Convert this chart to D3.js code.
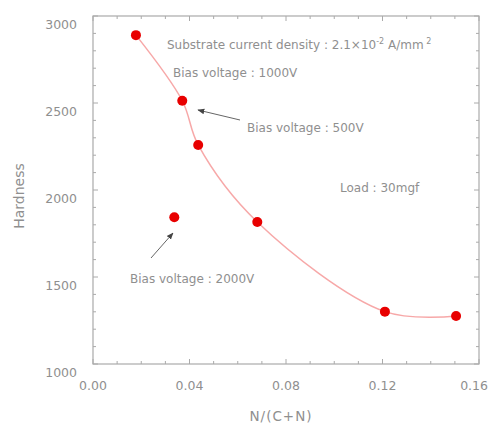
<!DOCTYPE html>
<html><head><meta charset="utf-8">
<script src="https://cdn.jsdelivr.net/npm/d3@7"></script>
<style>body{margin:0;background:#fff;} svg{display:block;} text{font-family:"DejaVu Sans",Verdana,sans-serif;}</style>
</head><body>
<svg id="c" width="489" height="424"></svg>
<script>
const xValues = [0.0178, 0.0370, 0.0436, 0.0681, 0.121, 0.1505];
const hardness = [2890, 2513, 2259, 1816, 1301, 1276];
const isoX = [0.0337];
const isoY = [1843];
const xTicks = [0.00, 0.04, 0.08, 0.12, 0.16];
const xTickLabels = ["0.00", "0.04", "0.08", "0.12", "0.16"];
const yTicks = [1000, 1500, 2000, 2500, 3000];
const yTickLabels = ["1000", "1500", "2000", "2500", "3000"];

const svg = d3.select("#c");
const L = 93, R = 479, T = 16, B = 364;
const x = d3.scaleLinear().domain([0, 0.16]).range([L, R]);
const y = d3.scaleLinear().domain([1000, 3000]).range([B, T]);
const axisCol = "#aaa", textCol = "#8f8f8f";

// frame
svg.append("rect").attr("x", L).attr("y", T).attr("width", R - L).attr("height", B - T)
  .attr("fill", "none").attr("stroke", axisCol).attr("stroke-width", 1.2);

// ticks inward on all sides
const g = svg.append("g").attr("stroke", axisCol).attr("stroke-width", 1);
d3.range(0, 0.1601, 0.01).forEach(v => {
  const major = xTicks.some(t => Math.abs(t - v) < 1e-6);
  const len = major ? 5 : 3;
  g.append("line").attr("x1", x(v)).attr("x2", x(v)).attr("y1", B).attr("y2", B - len);
  g.append("line").attr("x1", x(v)).attr("x2", x(v)).attr("y1", T).attr("y2", T + len);
});
d3.range(1000, 3001, 100).forEach(v => {
  const major = yTicks.includes(v);
  const len = major ? 5 : 3;
  g.append("line").attr("y1", y(v)).attr("y2", y(v)).attr("x1", L).attr("x2", L + len);
  g.append("line").attr("y1", y(v)).attr("y2", y(v)).attr("x1", R).attr("x2", R - len);
});

// tick labels
xTicks.forEach((t, i) => {
  const last = i === xTicks.length - 1;
  svg.append("text").attr("x", last ? 488 : x(t)).attr("y", B + 26)
    .attr("text-anchor", last ? "end" : "middle").attr("font-size", 12.5)
    .attr("fill", textCol).text(xTickLabels[i]);
});
yTicks.forEach((t, i) => svg.append("text").attr("x", 77).attr("y", y(t) + 13)
  .attr("text-anchor", "end").attr("font-size", 12.5).attr("fill", textCol).text(yTickLabels[i]));

// axis titles
svg.append("text").attr("x", 281).attr("y", 421).attr("text-anchor", "middle")
  .attr("font-size", 13.5).attr("letter-spacing", 1).attr("fill", textCol).text("N/(C+N)");
svg.append("text").attr("transform", "translate(24,196) rotate(-90)").attr("text-anchor", "middle")
  .attr("font-size", 14).attr("fill", textCol).text("Hardness");

// curve
const pts = xValues.map((v, i) => [x(v), y(hardness[i])]);
svg.append("path").attr("d", d3.line().curve(d3.curveCatmullRom.alpha(0.5))(pts))
  .attr("fill", "none").attr("stroke", "#f7a8a8").attr("stroke-width", 1.5);

// points
const all = xValues.map((v, i) => [v, hardness[i]]).concat(isoX.map((v, i) => [v, isoY[i]]));
svg.selectAll("circle.p").data(all).enter().append("circle")
  .attr("cx", d => x(d[0])).attr("cy", d => y(d[1])).attr("r", 5).attr("fill", "#e80000");

// annotations
const ann = svg.append("g").attr("font-size", 12).attr("fill", textCol);
const t1 = ann.append("text").attr("x", 167).attr("y", 49);
t1.append("tspan").text("Substrate current density : 2.1×10");
t1.append("tspan").attr("dy", -5).attr("font-size", 8).text("-2");
t1.append("tspan").attr("dy", 5).text(" A/mm");
t1.append("tspan").attr("dy", -5).attr("font-size", 8).text(" 2");
ann.append("text").attr("x", 173).attr("y", 77).text("Bias voltage : 1000V");
ann.append("text").attr("x", 247).attr("y", 132).text("Bias voltage : 500V");
ann.append("text").attr("x", 340).attr("y", 192).text("Load : 30mgf");
ann.append("text").attr("x", 130).attr("y", 283).text("Bias voltage : 2000V");

// arrows
svg.append("defs").append("marker").attr("id", "ah").attr("viewBox", "0 0 10 10")
  .attr("refX", 9).attr("refY", 5).attr("markerWidth", 7).attr("markerHeight", 7)
  .attr("orient", "auto").append("path").attr("d", "M0,1L10,5L0,9z").attr("fill", "#444");
svg.append("line").attr("x1", 240).attr("y1", 120).attr("x2", 198).attr("y2", 110)
  .attr("stroke", "#666").attr("stroke-width", 1).attr("marker-end", "url(#ah)");
svg.append("line").attr("x1", 151).attr("y1", 258).attr("x2", 173).attr("y2", 233)
  .attr("stroke", "#666").attr("stroke-width", 1).attr("marker-end", "url(#ah)");
</script>
</body></html>
